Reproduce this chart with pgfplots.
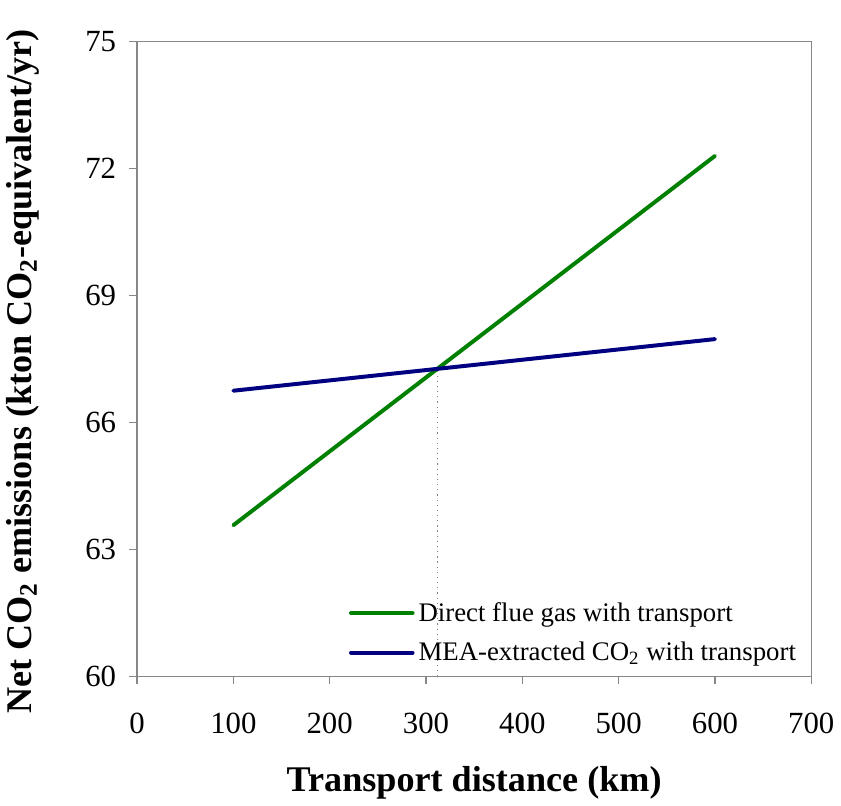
\documentclass[border=0pt]{standalone}
\usepackage{pgfplots}
\pgfplotsset{compat=1.18}
\usepackage{fontspec}
\setmainfont{Liberation Serif}
\definecolor{lgreen}{RGB}{0,128,0}
\definecolor{lblue}{RGB}{0,0,128}
\definecolor{axgray}{RGB}{135,135,135}
\begin{document}
\begin{tikzpicture}
\begin{axis}[
  name=ax,
  scale only axis,
  width=339.5pt, height=319.5pt,
  xmin=0, xmax=700, ymin=60, ymax=75,
  xtick={0,100,...,700}, ytick={60,63,66,69,72,75},
  axis line style={axgray, line width=0.7pt},
  tick style={axgray, line width=0.7pt},
  major tick length=4pt,
  tick align=outside,
  xtick pos=bottom, ytick pos=left,
  /pgf/number format/assume math mode=true,
  /pgf/number format/1000 sep={},
  tick label style={font=\fontsize{15.5}{18}\selectfont},
  xticklabel style={yshift=-11pt},
  yticklabel style={xshift=-3pt},
  xlabel={Transport distance (km)},
  ylabel={Net CO\textsubscript{2} emissions (kton CO\textsubscript{2}-equivalent/yr)},
  label style={font=\fontsize{18.2}{21}\selectfont\bfseries},
  xlabel style={at={(axis description cs:0.5,-0.1675)}, anchor=center},
  ylabel style={at={(axis description cs:-0.169,0.48)}, anchor=center, rotate=0},
  legend style={draw=none, fill=none, at={(axis description cs:0.305,0.13)}, anchor=north west,
    font=\fontsize{13.5}{16}\selectfont, row sep=5pt},
  legend cell align=left,
  legend image code/.code={\draw[#1, line width=2pt] (0pt,0pt) -- (31pt,0pt);},
]
\addplot[gray, dotted, line width=0.6pt, forget plot] coordinates {(312,60) (312,67.28)};
\addplot[lgreen, line width=2pt, line cap=round] coordinates {(100,63.57) (600,72.30)};
\addlegendentry{Direct flue gas with transport}
\addplot[lblue, line width=2pt, line cap=round] coordinates {(100,66.75) (600,67.97)};
\addlegendentry{MEA-extracted CO\textsubscript{2} with transport}
\end{axis}
\path[use as bounding box] ([xshift=-68.5pt,yshift=-64pt]ax.south west) rectangle ([xshift=352pt,yshift=340.5pt]ax.south west);
\end{tikzpicture}
\end{document}
